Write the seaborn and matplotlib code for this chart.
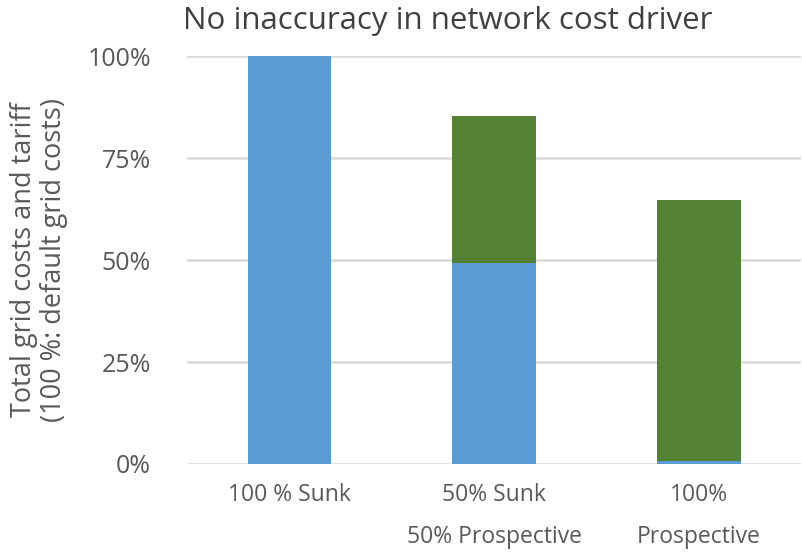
import pandas as pd
import matplotlib.pyplot as plt
import seaborn as sns

# data (share of default grid costs)
scenarios = ['100 % Sunk', '50% Sunk\n50% Prospective', '100%\nProspective']
sunk = [1.00, 0.493, 0.008]
prospective = [0.0, 0.36, 0.639]

df = pd.DataFrame({'Scenario': scenarios, 'Sunk': sunk, 'Prospective': prospective})
df['Total'] = df['Sunk'] + df['Prospective']

sns.set_theme(style='white')
plt.rcParams['font.family'] = ['Open Sans', 'DejaVu Sans']

fig = plt.figure(figsize=(8.03, 5.57), dpi=100)
ax = fig.add_axes([0.233, 0.167, 0.765, 0.732])

# stacked bars: total in green, sunk part drawn over it in blue
sns.barplot(data=df, x='Scenario', y='Total', color='#548235', width=0.41,
            saturation=1, linewidth=0, ax=ax, zorder=3)
sns.barplot(data=df, x='Scenario', y='Sunk', color='#5B9BD5', width=0.41,
            saturation=1, linewidth=0, ax=ax, zorder=3)

ax.set_ylim(0, 1.0)
ax.set_xlim(-0.5, 2.5)
ax.set_yticks([0, 0.25, 0.5, 0.75, 1.0])
ax.set_yticklabels(['0%', '25%', '50%', '75%', '100%'])
ax.yaxis.grid(True, color='#D9D9D9', linewidth=1.8, zorder=0)
ax.xaxis.grid(False)
for s in ax.spines.values():
    s.set_visible(False)
ax.tick_params(axis='y', length=0, labelsize=18, colors='#595959', pad=26)
ax.tick_params(axis='x', length=0, labelsize=16.5, colors='#595959', pad=14)
for lbl in ax.get_xticklabels():
    lbl.set_linespacing(2.0)

ax.set_xlabel('')
ax.set_ylabel('Total grid costs and tariff\n(100 %: default grid costs)',
              fontsize=19.5, color='#595959', labelpad=14, linespacing=1.1)

fig.text(0.228, 0.962, 'No inaccuracy in network cost driver', fontsize=22.5,
         color='#404040', va='center', ha='left')

fig.savefig('out.png', dpi=100)
